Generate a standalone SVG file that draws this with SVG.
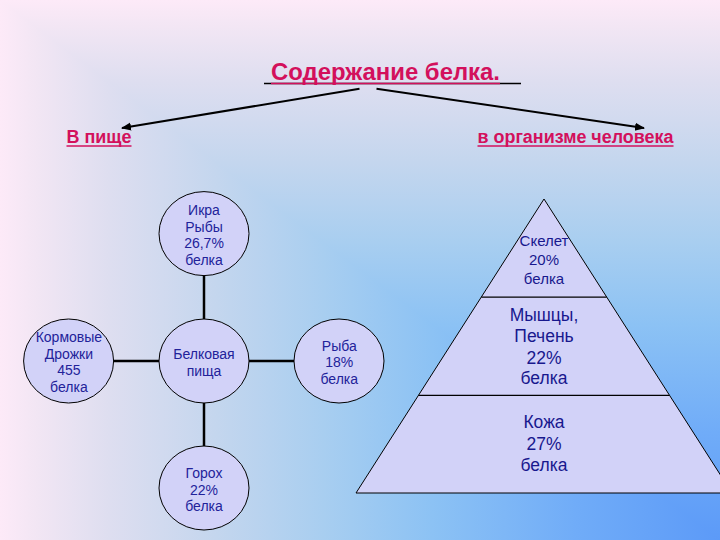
<svg xmlns="http://www.w3.org/2000/svg" width="720" height="540" viewBox="0 0 720 540">
<defs>
<linearGradient id="bgh" x1="720" y1="0" x2="0" y2="0" gradientUnits="userSpaceOnUse">
<stop offset="0" stop-color="#5C9AF8"/>
<stop offset="0.2" stop-color="#70ACF8"/>
<stop offset="0.4" stop-color="#8CC2F4"/>
<stop offset="0.55" stop-color="#A8CEF0"/>
<stop offset="0.7" stop-color="#C4D6EE"/>
<stop offset="0.85" stop-color="#DEDEF0"/>
<stop offset="0.95" stop-color="#F2E6F4"/>
<stop offset="1" stop-color="#FDEAF8"/>
</linearGradient>
<linearGradient id="bgv" x1="0" y1="540" x2="0" y2="0" gradientUnits="userSpaceOnUse">
<stop offset="0" stop-color="#5C9AF8"/>
<stop offset="0.2" stop-color="#70ACF8"/>
<stop offset="0.4" stop-color="#8CC2F4"/>
<stop offset="0.55" stop-color="#A8CEF0"/>
<stop offset="0.7" stop-color="#C4D6EE"/>
<stop offset="0.85" stop-color="#DEDEF0"/>
<stop offset="0.95" stop-color="#F2E6F4"/>
<stop offset="1" stop-color="#FDEAF8"/>
</linearGradient>
<marker id="arr" viewBox="0 0 10 10" refX="9" refY="5" markerWidth="5" markerHeight="5" orient="auto" markerUnits="strokeWidth">
<path d="M0,1 L10,5 L0,9 Z" fill="#000"/>
</marker>
<style>
.hd{font-family:"Liberation Sans",Arial,sans-serif;font-weight:bold;fill:#D3105C}
.ul{stroke:#D3105C;stroke-width:1.5}
.c{fill:#D2D2F8;stroke:#000;stroke-width:1}
.ct{font-family:"Liberation Sans",Arial,sans-serif;font-size:14px;fill:#22229A;text-anchor:middle}
.pt{font-family:"Liberation Sans",Arial,sans-serif;fill:#18188E;text-anchor:middle}
.ln{stroke:#000;stroke-width:2.5;fill:none}
</style>
</defs>
<rect x="0" y="0" width="720" height="540" fill="url(#bgv)"/>
<polygon points="0,0 720,540 0,540" fill="url(#bgh)"/>

<g id="title">
<line x1="264" y1="83.5" x2="521" y2="83.5" stroke="#000" stroke-width="1.5"/>
<text class="hd" x="271" y="80" font-size="23" textLength="229" lengthAdjust="spacingAndGlyphs">Содержание белка.</text>
<line class="ul" x1="271" y1="83.5" x2="500" y2="83.5"/>
</g>

<g id="food-label">
<text class="hd" x="66.5" y="143" font-size="18" textLength="65" lengthAdjust="spacingAndGlyphs">В пище</text>
<line class="ul" x1="66.5" y1="146" x2="131.5" y2="146"/>
</g>

<g id="body-label">
<text class="hd" x="477.5" y="143" font-size="18" textLength="196" lengthAdjust="spacingAndGlyphs">в организме человека</text>
<line class="ul" x1="477.5" y1="146" x2="673.5" y2="146"/>
</g>

<g id="connectors">
<line x1="359.5" y1="88.8" x2="122" y2="128" stroke="#000" stroke-width="2" marker-end="url(#arr)"/>
<line x1="376.5" y1="88.8" x2="644" y2="128" stroke="#000" stroke-width="2" marker-end="url(#arr)"/>
<line class="ln" x1="204" y1="275.5" x2="204" y2="319"/>
<line class="ln" x1="204" y1="403" x2="204" y2="446.6"/>
<line class="ln" x1="113.5" y1="361" x2="159" y2="361"/>
<line class="ln" x1="249" y1="361" x2="294" y2="361"/>
</g>

<g id="ikra">
<ellipse class="c" cx="204" cy="233.6" rx="45" ry="42"/>
<text class="ct" x="204" y="214.5">Икра</text>
<text class="ct" x="204" y="231.5">Рыбы</text>
<text class="ct" x="204" y="248">26,7%</text>
<text class="ct" x="204" y="264.5">белка</text>
</g>

<g id="belkovaya">
<ellipse class="c" cx="204" cy="361" rx="45" ry="42"/>
<text class="ct" x="204" y="358.5">Белковая</text>
<text class="ct" x="204" y="375.5">пища</text>
</g>

<g id="kormovye">
<ellipse class="c" cx="68.6" cy="361" rx="45" ry="42"/>
<text class="ct" x="68.9" y="341.5">Кормовые</text>
<text class="ct" x="68.9" y="358.5">Дрожки</text>
<text class="ct" x="68.9" y="375">455</text>
<text class="ct" x="68.9" y="392">белка</text>
</g>

<g id="ryba">
<ellipse class="c" cx="339" cy="361" rx="45" ry="42"/>
<text class="ct" x="339.3" y="350.5">Рыба</text>
<text class="ct" x="339.3" y="367">18%</text>
<text class="ct" x="339.3" y="384">белка</text>
</g>

<g id="gorox">
<ellipse class="c" cx="204" cy="488" rx="45" ry="42"/>
<text class="ct" x="204" y="478">Горох</text>
<text class="ct" x="204" y="494.5">22%</text>
<text class="ct" x="204" y="511">белка</text>
</g>

<g id="pyramid">
<polygon points="544,199 732,493 356,493" fill="#D2D2F8" stroke="#000" stroke-width="1"/>
<line x1="481.3" y1="297.2" x2="606.7" y2="297.2" stroke="#000" stroke-width="1.2"/>
<line x1="418.5" y1="395.3" x2="669.5" y2="395.3" stroke="#000" stroke-width="1.2"/>
</g>

<g id="skelet">
<text class="pt" x="544" y="246" font-size="15">Скелет</text>
<text class="pt" x="544" y="265" font-size="15">20%</text>
<text class="pt" x="544" y="284" font-size="15">белка</text>
</g>

<g id="myshcy">
<text class="pt" x="544" y="320.5" font-size="17.5">Мышцы,</text>
<text class="pt" x="544" y="341.5" font-size="17.5">Печень</text>
<text class="pt" x="544" y="363.5" font-size="17.5">22%</text>
<text class="pt" x="544" y="384" font-size="17.5">белка</text>
</g>

<g id="kozha">
<text class="pt" x="544" y="428" font-size="17.5">Кожа</text>
<text class="pt" x="544" y="450" font-size="17.5">27%</text>
<text class="pt" x="544" y="471" font-size="17.5">белка</text>
</g>
</svg>
